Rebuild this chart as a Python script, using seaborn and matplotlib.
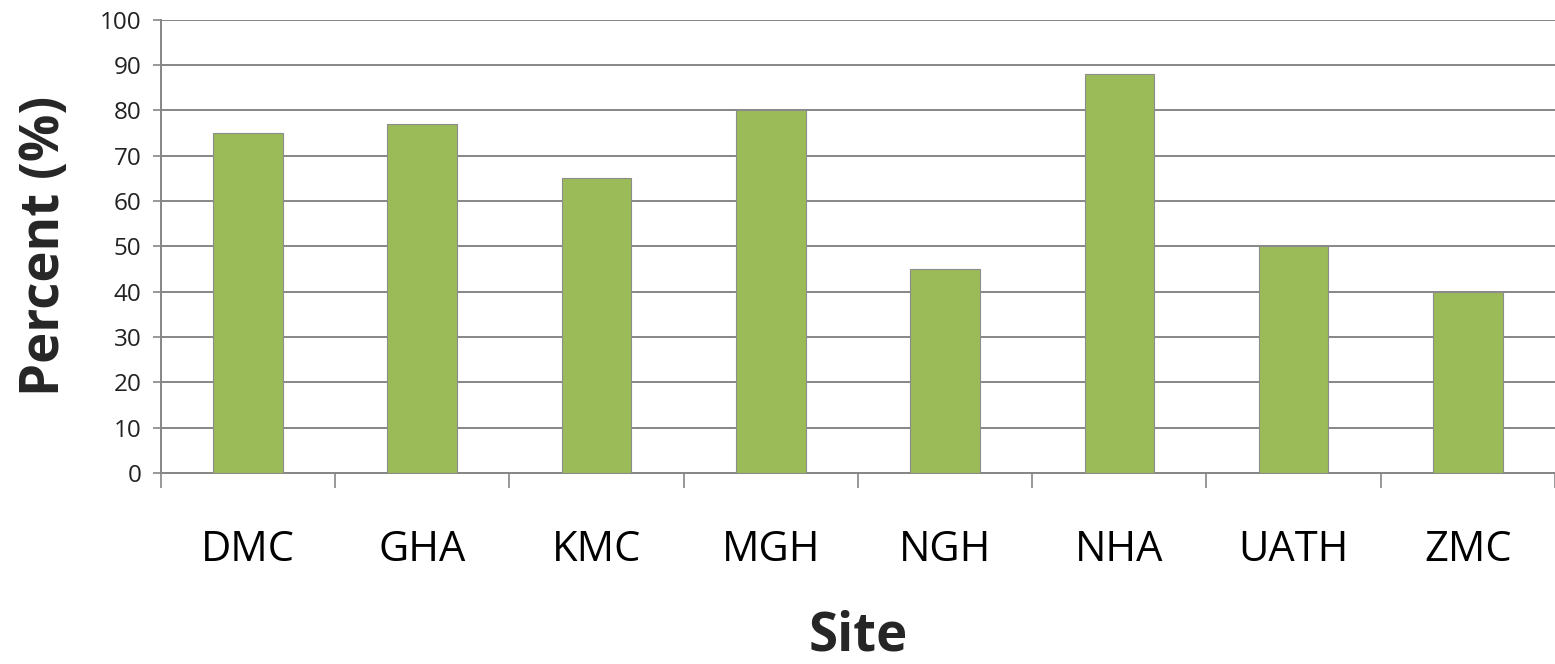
import matplotlib
matplotlib.use('Agg')
import matplotlib.pyplot as plt
import seaborn as sns
import numpy as np

# --- Data ---
sites = ['DMC', 'GHA', 'KMC', 'MGH', 'NGH', 'NHA', 'UATH', 'ZMC']
percent = [75, 77, 65, 80, 45, 88, 50, 40]
y_ticks = list(range(0, 101, 10))

# --- Style ---
sns.set_style('white')
plt.rcParams['font.family'] = ['Open Sans', 'DejaVu Sans']

GRID = '#868686'
BAR = '#9BBB59'

fig = plt.figure(figsize=(15.55, 6.64), dpi=100)
ax = fig.add_axes([0.1035, 0.2877, 0.8965, 0.6829])

sns.barplot(x=sites, y=percent, color=BAR, width=0.4, edgecolor='#8c8c8c',
            linewidth=0.8, saturation=1, ax=ax, zorder=3)

ax.set_ylim(0, 100)
ax.set_xlim(-0.5, len(sites) - 0.5)
ax.set_yticks(y_ticks)
ax.yaxis.grid(True, color=GRID, linewidth=1.4, zorder=0)
ax.set_axisbelow(True)

# category boundary ticks, Excel style
ax.set_xticks(np.arange(-0.5, len(sites), 1.0), minor=True)
ax.tick_params(axis='x', which='minor', bottom=True, length=11, width=1.2,
               color=GRID, direction='out')
ax.tick_params(axis='x', which='major', bottom=False, length=0, pad=40,
               labelsize=30, labelcolor='black')
ax.tick_params(axis='y', which='major', length=6, width=1.2, color=GRID,
               direction='out', left=True, labelsize=17.5, labelcolor='#222222', pad=8)

for side in ['top', 'right']:
    ax.spines[side].set_visible(False)
for side in ['left', 'bottom']:
    ax.spines[side].set_color(GRID)
    ax.spines[side].set_linewidth(1.4)

ax.set_xlabel('Site', fontsize=38, fontweight='bold', labelpad=28)
ax.set_ylabel('Percent (%)', fontsize=38, fontweight='bold', labelpad=20)

fig.savefig('out.png', dpi=100)
